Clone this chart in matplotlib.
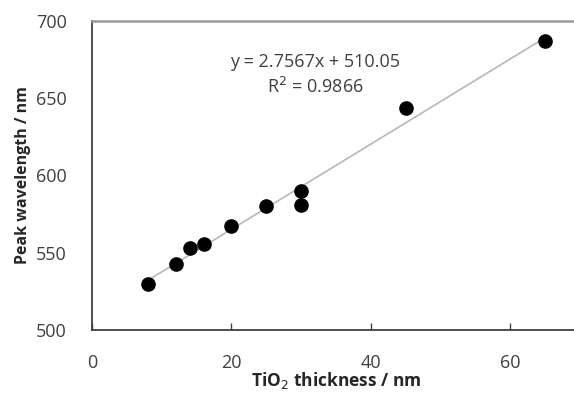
import numpy as np
import matplotlib
matplotlib.use("Agg")
import matplotlib.pyplot as plt

plt.rcParams['font.family'] = ['Open Sans', 'DejaVu Sans']

# measured points
thickness = [8, 12, 14, 16, 20, 25, 30, 30, 45, 65]
peak_wl = [530, 543, 553, 555.5, 567, 580, 590, 581, 644, 687]

# linear fit shown on the chart
slope = 2.7567
intercept = 510.05
r2 = 0.9866

fig = plt.figure(figsize=(5.74, 3.94), dpi=100)
# axes run past the right edge like the cropped original
ax = fig.add_axes([92 / 574, 1 - 330 / 394, 488 / 574, 309 / 394])

fit_x = np.array([min(thickness), max(thickness)])
ax.plot(fit_x, slope * fit_x + intercept, color='#b8b8b8', linewidth=1.2, zorder=1)
ax.plot(thickness, peak_wl, 'o', color='black', markersize=9.5, zorder=2)

ax.set_xlim(0, 70)
ax.set_ylim(500, 700)
ax.set_xticks([0, 20, 40, 60])
ax.set_yticks([500, 550, 600, 650, 700])
ax.tick_params(axis='x', direction='in', length=5, width=1, color='#404040',
               labelsize=13, labelcolor='#404040', pad=17)
ax.tick_params(axis='y', length=0, labelsize=13, labelcolor='#404040', pad=18)

for side in ['left', 'bottom']:
    ax.spines[side].set_color('#404040')
    ax.spines[side].set_linewidth(1.3)
ax.spines['top'].set_color('#9a9a9a')
ax.spines['top'].set_linewidth(1.8)
ax.spines['right'].set_color('#9a9a9a')

ax.set_xlabel('TiO$_2$ thickness / nm', fontsize=12.5, fontweight='bold',
              color='#262626', labelpad=-1)
ax.set_ylabel('Peak wavelength / nm', fontsize=11.5, fontweight='bold',
              color='#262626', labelpad=4)

ax.text(0.458, 0.825, f'y = {slope}x + {intercept}\nR$^2$ = {r2}',
        transform=ax.transAxes, ha='center', va='center', fontsize=13,
        color='#404040', linespacing=1.35)

fig.savefig('out.png', dpi=100)
